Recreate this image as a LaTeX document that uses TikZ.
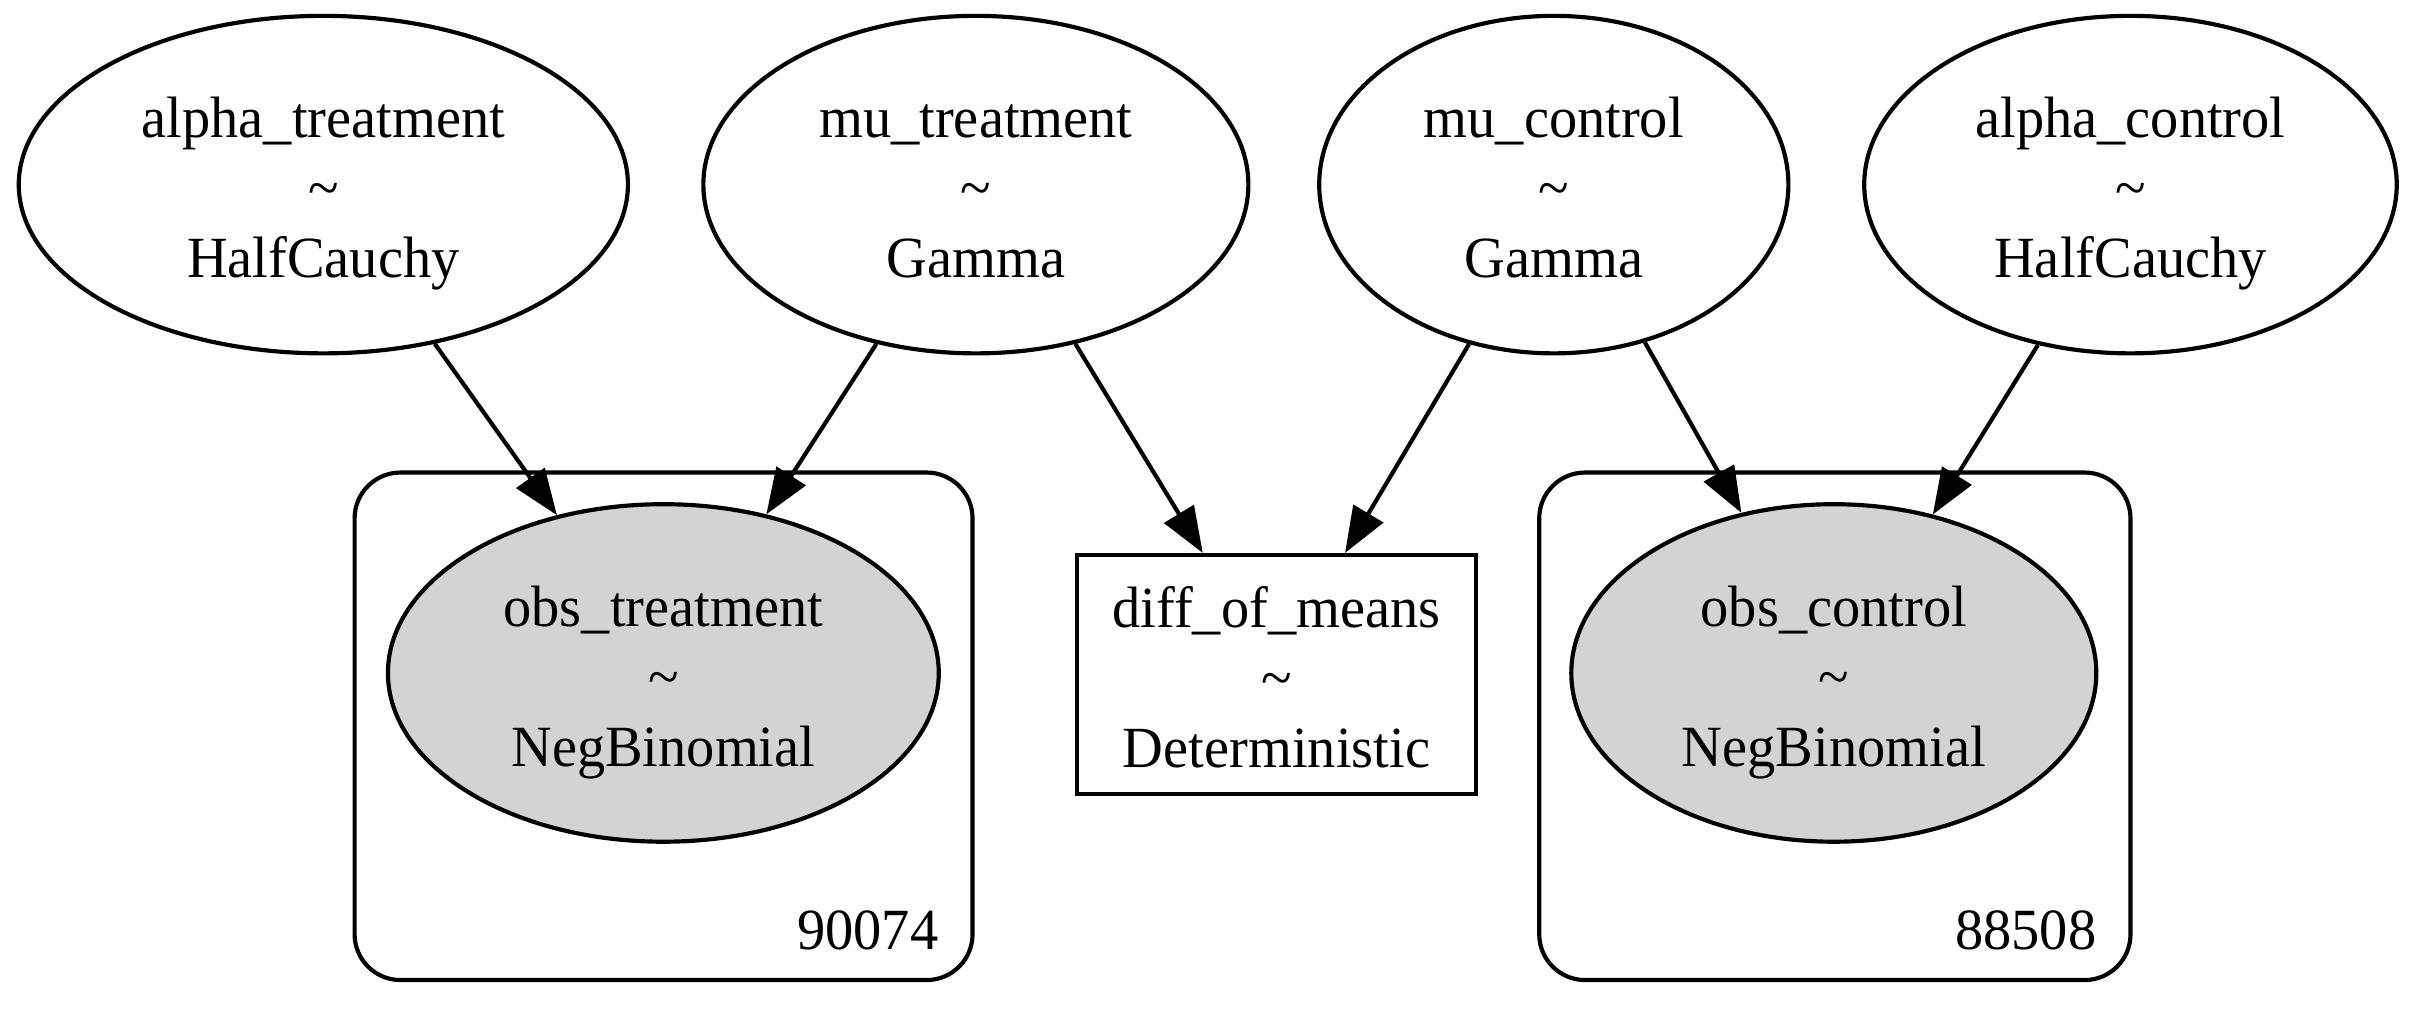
\documentclass[tikz,border=0pt]{standalone}
\usepackage{fontspec}
\setmainfont{Liberation Serif}[FakeStretch=0.967]
\usetikzlibrary{shapes.geometric,arrows.meta}
\definecolor{lgray}{HTML}{D3D3D3}
\begin{document}
\begin{tikzpicture}[x=1pt,y=-1pt,
  every node/.style={font=\fontsize{14}{16.8}\selectfont},
  rv/.style={draw,line width=1pt,ellipse,inner sep=0pt,minimum height=81pt,align=center,text height=44.8pt,text depth=0pt},
  obsv/.style={rv,fill=lgray},
  detbox/.style={draw,line width=1pt,rectangle,inner sep=0pt,align=center,text height=44.8pt,text depth=0pt},
  plate/.style={draw,line width=1pt,rounded corners=11pt,inner sep=0pt},
  platelabel/.style={anchor=base east,inner sep=0pt},
  edge/.style={line width=1pt,-{Triangle[length=11pt,width=8.2pt]}}]
\useasboundingbox (0,0) rectangle (579.1,247.2);
% plates
\node[plate,minimum width=148.3pt,minimum height=121.8pt] (plateT) at (159.25,174.3) {};
\node[plate,minimum width=141.9pt,minimum height=121.8pt] (plateC) at (440.35,174.3) {};
\node[platelabel] (labT) at (225.4,227.8) {90074};
\node[platelabel] (labC) at (503.3,227.8) {88508};
% top nodes
\node[rv,minimum width=146.2pt] (alphaT) at (77.6,44.3) {alpha\_treatment\\\textasciitilde\\HalfCauchy};
\node[rv,minimum width=130.8pt] (muT) at (234.2,44.3) {mu\_treatment\\\textasciitilde\\Gamma};
\node[rv,minimum width=112.6pt] (muC) at (372.9,44.3) {mu\_control\\\textasciitilde\\Gamma};
\node[rv,minimum width=127.8pt] (alphaC) at (511.3,44.3) {alpha\_control\\\textasciitilde\\HalfCauchy};
% second rank
\node[obsv,minimum width=132.2pt] (obsT) at (159.2,161.5) {obs\_treatment\\\textasciitilde\\NegBinomial};
\node[detbox,minimum width=95.9pt,minimum height=57.4pt] (diff) at (306.35,161.9) {diff\_of\_means\\\textasciitilde\\Deterministic};
\node[obsv,minimum width=126pt] (obsC) at (440.1,161.5) {obs\_control\\\textasciitilde\\NegBinomial};
% edges
\draw[edge] (alphaT.-55.6) -- (obsT.124.7);
\draw[edge] (muT.-122.4) -- (obsT.57.2);
\draw[edge] (muT.-58.7) -- ([xshift=-17.7pt]diff.north);
\draw[edge] (muC.-118.6) -- ([xshift=16.45pt]diff.north);
\draw[edge] (muC.-60.2) -- (obsC.120.5);
\draw[edge] (alphaC.-120.4) -- (obsC.58.2);
\end{tikzpicture}
\end{document}
